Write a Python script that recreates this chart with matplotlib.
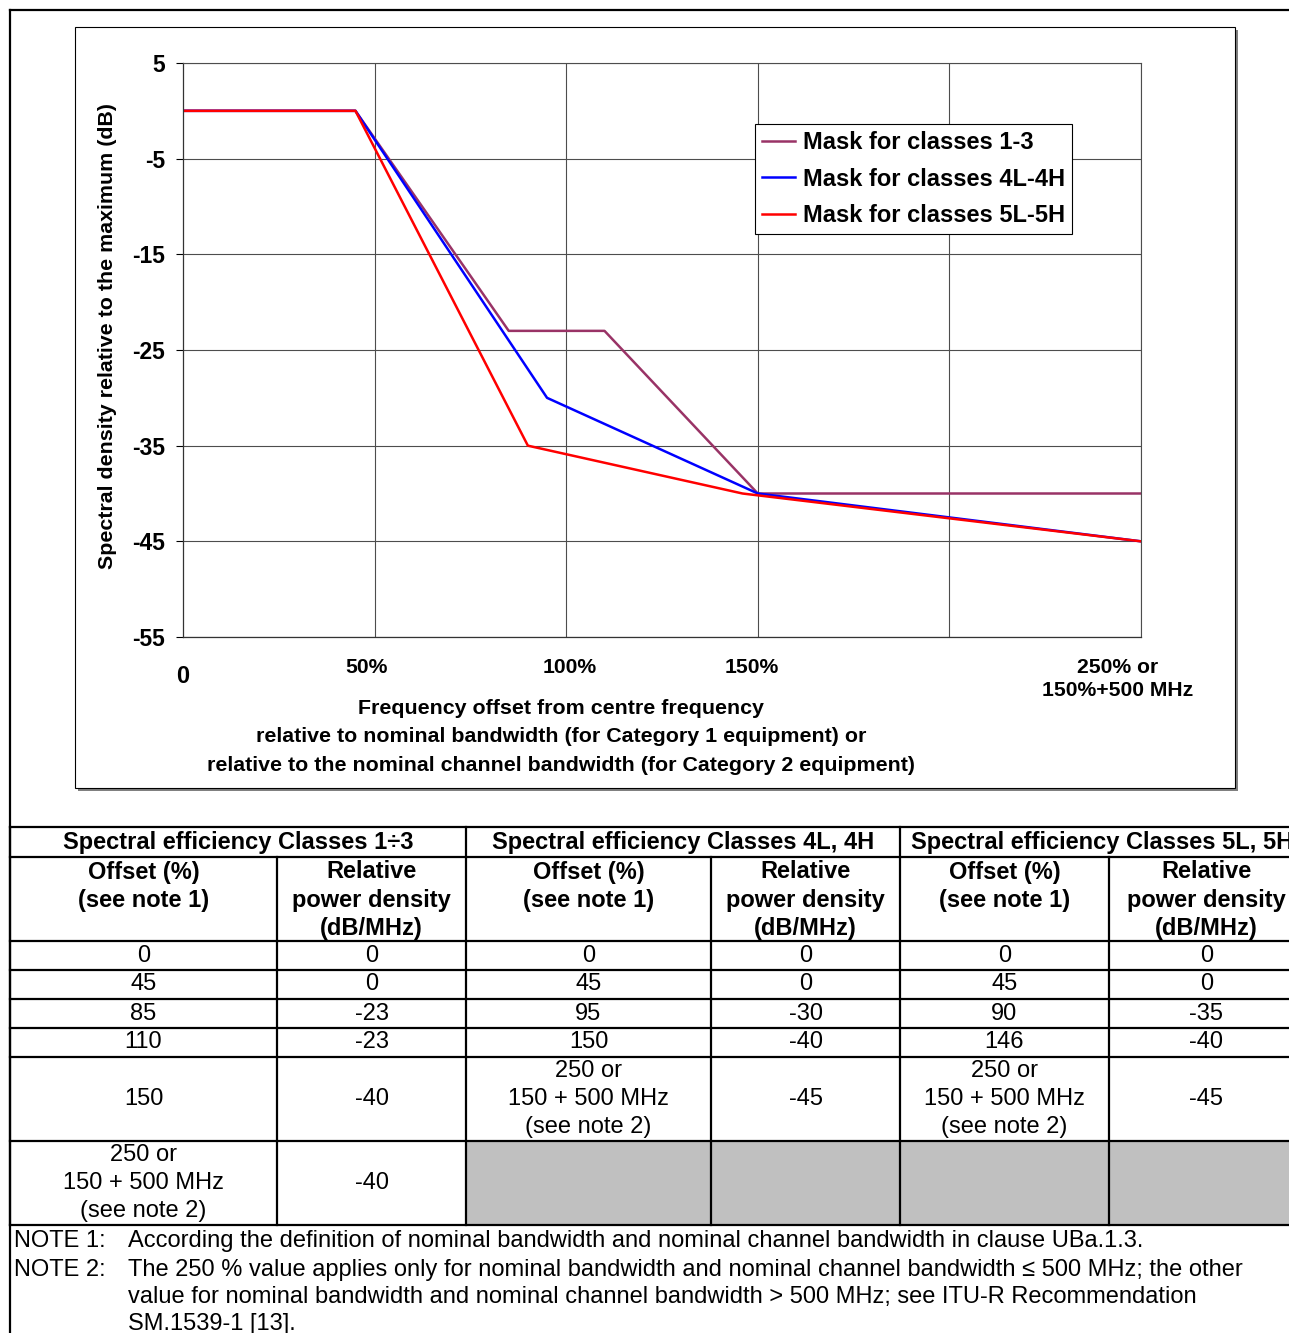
import matplotlib
matplotlib.use("Agg")
import matplotlib.pyplot as plt
from matplotlib.patches import Rectangle

plt.rcParams['font.family'] = ['Liberation Sans', 'DejaVu Sans']

# ---------------------- data ----------------------
x_13 = [0, 45, 85, 110, 150, 250]
y_13 = [0, 0, -23, -23, -40, -40]
x_4 = [0, 45, 95, 150, 250]
y_4 = [0, 0, -30, -40, -45]
x_5 = [0, 45, 90, 146, 250]
y_5 = [0, 0, -35, -40, -45]

series_labels = ["Mask for classes 1-3", "Mask for classes 4L-4H", "Mask for classes 5L-5H"]
series_colors = ["#993366", "#0000FF", "#FF0000"]

yticks = [5, -5, -15, -25, -35, -45, -55]
xtick_labels = ["0", "50%", "100%", "150%", "250% or\n150%+500 MHz"]
xtick_label_pos = [0, 47.8, 101, 148.5, 244]
xgrid = [50, 100, 150, 200, 250]

group_headers = ["Spectral efficiency Classes 1\u00f73",
                 "Spectral efficiency Classes 4L, 4H",
                 "Spectral efficiency Classes 5L, 5H"]
sub_headers = ["Offset (%)\n(see note 1)", "Relative\npower density\n(dB/MHz)"]
last_offset = "250 or\n150 + 500 MHz\n(see note 2)"
notes = [("NOTE 1:", "According the definition of nominal bandwidth and nominal channel bandwidth in clause UBa.1.3."),
         ("NOTE 2:", "The 250 % value applies only for nominal bandwidth and nominal channel bandwidth \u2264 500 MHz; the other\n"
                     "value for nominal bandwidth and nominal channel bandwidth > 500 MHz; see ITU-R Recommendation\n"
                     "SM.1539-1 [13].")]

W, H = 1289, 1333
fig = plt.figure(figsize=(W / 100, H / 100), dpi=100)


def px_box(x0, y0, x1, y1):
    return [x0 / W, 1 - y1 / H, (x1 - x0) / W, (y1 - y0) / H]


# overlay for frames, table and notes (pixel coordinates)
ov = fig.add_axes([0, 0, 1, 1], zorder=0)
ov.set_xlim(0, W)
ov.set_ylim(H, 0)
ov.axis("off")

# outer frame
ov.plot([10, 10], [10, H], color="black", lw=1.6)
ov.plot([10, W], [10, 10], color="black", lw=1.6)
# chart area box with shadow
ov.add_patch(Rectangle((78, 30), 1160, 761, facecolor="#808080", edgecolor="none"))
ov.add_patch(Rectangle((75, 27), 1160, 761, facecolor="white", edgecolor="black", lw=0.8))

# ---------------------- chart ----------------------
ax = fig.add_axes(px_box(183, 63, 1141, 637), zorder=2)
ax.plot(x_13, y_13, color=series_colors[0], lw=1.8, label=series_labels[0])
ax.plot(x_4, y_4, color=series_colors[1], lw=1.8, label=series_labels[1])
ax.plot(x_5, y_5, color=series_colors[2], lw=1.8, label=series_labels[2])

ax.set_xlim(0, 250)
ax.set_ylim(-55, 5)
ax.set_yticks(yticks)
ax.set_yticklabels([str(v) for v in yticks], fontsize=16.5, fontweight="bold")
ax.tick_params(axis="y", length=5, width=0.8, pad=8)
ax.set_xticks(xgrid, minor=True)
ax.set_xticks(xtick_label_pos)
ax.set_xticklabels(xtick_labels, fontsize=15.2, fontweight="bold", linespacing=1.25)
ax.tick_params(axis="x", which="both", length=0, pad=15)
tl = ax.get_xticklabels()
tl[0].set_fontsize(17)
tl[0].set_y(-0.012)
ax.grid(True, axis="x", which="minor", color="#4d4d4d", lw=0.8)
ax.grid(True, axis="y", which="major", color="#4d4d4d", lw=0.8)
ax.set_axisbelow(True)
for s in ["top", "right"]:
    ax.spines[s].set_color("#4d4d4d")
    ax.spines[s].set_linewidth(0.8)
for s in ["left", "bottom"]:
    ax.spines[s].set_color("#333333")
    ax.spines[s].set_linewidth(0.9)

ax.set_ylabel("Spectral density relative to the maximum (dB)", fontsize=15.4, fontweight="bold")
ax.yaxis.set_label_coords(-0.069, 0.524)
ax.set_xlabel("Frequency offset from centre frequency\n"
              "relative to nominal bandwidth (for Category 1 equipment) or\n"
              "relative to the nominal channel bandwidth (for Category 2 equipment)",
              fontsize=15.4, fontweight="bold", linespacing=1.62)
ax.xaxis.set_label_coords(0.3946, -0.108)

leg = ax.legend(loc="upper left", bbox_to_anchor=(0.597, 0.894), fancybox=False,
                framealpha=1, edgecolor="black", prop={"size": 17, "weight": "bold"},
                handlelength=1.4, handletextpad=0.34, borderpad=0.3, labelspacing=0.58,
                borderaxespad=0)
leg.get_frame().set_linewidth(0.8)

# ---------------------- table ----------------------
col_x = [10, 277, 466, 711, 900, 1109, 1304]
row_y = [827, 857, 941, 970, 999, 1028, 1057, 1141, 1225]
LINE = 28
fs_t = 17

# gray empty cells
ov.add_patch(Rectangle((466, 1141), 1304 - 466, 84, facecolor="#C0C0C0", edgecolor="none"))

for yy in row_y:
    ov.plot([10, W], [yy, yy], color="black", lw=1.6)
ov.plot([10, 10], [827, 1225], color="black", lw=1.6)
for xx in [466, 900]:
    ov.plot([xx, xx], [827, 1225], color="black", lw=1.6)
for xx in [277, 711, 1109]:
    ov.plot([xx, xx], [857, 1225], color="black", lw=1.6)


def cell_text(xc, yc, txt, bold=False, top=None):
    lines = txt.split("\n")
    n = len(lines)
    for i, ln in enumerate(lines):
        if top is None:
            y = yc + (i - (n - 1) / 2) * LINE
        else:
            y = top + i * LINE
        ov.text(xc, y, ln, ha="center", va="center", fontsize=fs_t,
                fontweight="bold" if bold else "normal")


for g, txt in enumerate(group_headers):
    cell_text((col_x[2 * g] + col_x[2 * g + 2]) / 2, 842, txt, bold=True)
for c in range(6):
    cell_text((col_x[c] + col_x[c + 1]) / 2, 0, sub_headers[c % 2], bold=True, top=872)

row_centers = [(row_y[i] + row_y[i + 1]) / 2 for i in range(2, 8)]
tables = [(x_13, y_13), (x_4, y_4), (x_5, y_5)]
for g, (xs, ys) in enumerate(tables):
    for i, (xv, yv) in enumerate(zip(xs, ys)):
        off = last_offset if i == len(xs) - 1 else str(xv)
        cell_text((col_x[2 * g] + col_x[2 * g + 1]) / 2, row_centers[i], off)
        cell_text((col_x[2 * g + 1] + col_x[2 * g + 2]) / 2, row_centers[i], str(yv))

# notes
note_y = [1241, 1270]
for (lab, txt), ny in zip(notes, note_y):
    ov.text(14, ny, lab, ha="left", va="center", fontsize=fs_t)
    for i, ln in enumerate(txt.split("\n")):
        ov.text(128, ny + i * 27, ln, ha="left", va="center", fontsize=fs_t)

fig.savefig("out.png", dpi=100)
